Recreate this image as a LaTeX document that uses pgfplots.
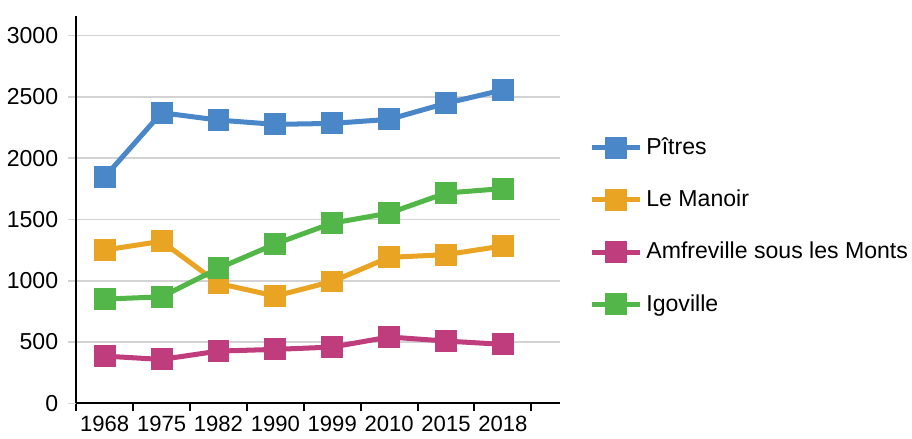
\documentclass[border=0pt]{standalone}
\usepackage{fontspec}
\setmainfont{Liberation Sans}
\usepackage{pgfplots}
\pgfplotsset{compat=1.18}
\definecolor{cPitres}{HTML}{4A87C9}
\definecolor{cManoir}{HTML}{E9A423}
\definecolor{cAmf}{HTML}{BF3C7D}
\definecolor{cIgo}{HTML}{52B748}
\definecolor{gridgray}{HTML}{D3D3D3}

\begin{document}
\begin{tikzpicture}
  \begin{axis}[
    name=main,
    scale only axis,
    width=241pt, height=193pt,
    xmin=-0.5, xmax=8, ymin=0, ymax=3160,
    axis lines=left,
    axis line style={-, line width=1pt, black},
    xtick={0,...,7},
    xticklabels={1968,1975,1982,1990,1999,2010,2015,2018},
    minor xtick={-0.5,0.5,...,7.5},
    major x tick style={draw=none},
    minor x tick style={draw=black, line width=1pt},
    minor tick length=4pt,
    ytick={0,500,...,3000},
    ytick style={draw=gridgray, line width=0.8pt},
    major tick length=4pt,
    tick align=outside,
    ymajorgrids,
    grid style={gridgray, line width=0.8pt},
    tick label style={font=\fontsize{11.5}{13}\selectfont},
    xticklabel style={yshift=1pt, font=\fontsize{11}{13}\selectfont},
    yticklabel style={xshift=-1.5pt},
    /pgf/number format/assume math mode=true,
    /pgf/number format/1000 sep={},
    legend style={at={(1.060,0.458)}, anchor=west, draw=none, fill=none,
      inner xsep=0pt,
      font=\fontsize{11.5}{14}\selectfont, row sep=12.2pt,
      /tikz/every even column/.append style={column sep=2pt}},
    legend cell align=left,
    legend image code/.code={
      \draw[#1, mark repeat=2, mark phase=2]
        plot coordinates {(0pt,0pt) (12pt,0pt) (24pt,0pt)};},
    every axis plot/.append style={line width=2.5pt, mark=square*, mark size=4.2pt, mark options={solid}},
  ]
    \addplot[cPitres] coordinates {
      (0,1847)(1,2371)(2,2311)(3,2276)(4,2284)(5,2317)(6,2448)(7,2557)};
    \addlegendentry{Pîtres}
    \addplot[cManoir] coordinates {
      (0,1251)(1,1322)(2,978)(3,875)(4,994)(5,1191)(6,1213)(7,1284)};
    \addlegendentry{Le Manoir}
    \addplot[cAmf] coordinates {
      (0,385)(1,358)(2,426)(3,440)(4,459)(5,541)(6,508)(7,481)};
    \addlegendentry{Amfreville sous les Monts}
    \addplot[cIgo] coordinates {
      (0,850)(1,869)(2,1101)(3,1301)(4,1470)(5,1552)(6,1716)(7,1752)};
    \addlegendentry{Igoville}
  \end{axis}
  \path ([yshift=8pt]main.north);
  \path ([xshift=-38pt]main.west);
\end{tikzpicture}
\end{document}
